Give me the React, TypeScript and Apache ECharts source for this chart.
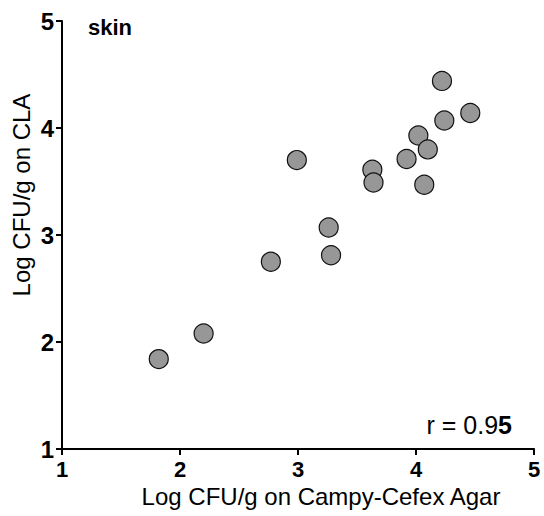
import React, { useEffect, useRef } from "react";
import * as echarts from "echarts";

const xValues = [1.82, 2.2, 2.77, 2.99, 3.26, 3.28, 3.63, 3.64, 3.92, 4.02, 4.07, 4.1, 4.22, 4.24, 4.46];
const yValues = [1.84, 2.08, 2.75, 3.7, 3.07, 2.81, 3.61, 3.49, 3.71, 3.93, 3.47, 3.8, 4.44, 4.07, 4.14];
const xTicks = [1, 2, 3, 4, 5];
const yTicks = [1, 2, 3, 4, 5];
const panelLabel = "skin";
const xTitle = "Log CFU/g on Campy-Cefex Agar";
const yTitle = "Log CFU/g on CLA";
const rLabelPlain = "r = 0.9";
const rLabelBold = "5";

const FONT = "Arial, 'Liberation Sans', Helvetica, sans-serif";

export default function App() {
  const ref = useRef<HTMLDivElement>(null);
  useEffect(() => {
    if (!ref.current) return;
    const chart = echarts.init(ref.current, null, { renderer: "svg" });
    const points = xValues.map((x, i) => [x, yValues[i]]);
    chart.setOption({
      animation: false,
      backgroundColor: "#ffffff",
      grid: { left: 62, right: 10, top: 21, bottom: 67 },
      xAxis: {
        type: "value",
        min: xTicks[0],
        max: xTicks[xTicks.length - 1],
        interval: 1,
        splitLine: { show: false },
        axisLine: { show: true, onZero: false, lineStyle: { color: "#000", width: 2 } },
        axisTick: { show: true, length: 6, lineStyle: { color: "#000", width: 2 } },
        axisLabel: { color: "#000", fontFamily: FONT, fontSize: 22, fontWeight: "bold", margin: 9 },
      },
      yAxis: {
        type: "value",
        min: yTicks[0],
        max: yTicks[yTicks.length - 1],
        interval: 1,
        splitLine: { show: false },
        axisLine: { show: true, onZero: false, lineStyle: { color: "#000", width: 2 } },
        axisTick: { show: true, length: 6, lineStyle: { color: "#000", width: 2 } },
        axisLabel: { color: "#000", fontFamily: FONT, fontSize: 24, fontWeight: "bold", margin: 8 },
      },
      series: [
        {
          type: "scatter",
          data: points,
          symbol: "circle",
          symbolSize: 19,
          itemStyle: { color: "#979797", borderColor: "#111", borderWidth: 1.2, opacity: 1 },
        },
      ],
      graphic: [
        {
          type: "text",
          left: 88,
          top: 16,
          style: { text: panelLabel, fill: "#000", font: `bold 22px ${FONT}` },
        },
        {
          type: "text",
          x: 321,
          y: 496,
          style: {
            text: xTitle,
            fill: "#000",
            font: `24px ${FONT}`,
            textAlign: "center",
            textVerticalAlign: "middle",
          },
        },
        {
          type: "text",
          x: 21,
          y: 195,
          rotation: Math.PI / 2,
          style: {
            text: yTitle,
            fill: "#000",
            font: `24px ${FONT}`,
            textAlign: "center",
            textVerticalAlign: "middle",
          },
        },
        {
          type: "text",
          x: 512,
          y: 425,
          style: {
            text: `{a|${rLabelPlain}}{b|${rLabelBold}}`,
            textAlign: "right",
            textVerticalAlign: "middle",
            rich: {
              a: { fill: "#000", fontFamily: FONT, fontSize: 25 },
              b: { fill: "#000", fontFamily: FONT, fontSize: 25, fontWeight: "bold" },
            },
          },
        },
      ],
    });
    return () => chart.dispose();
  }, []);
  return (
    <div
      ref={ref}
      style={{ position: "fixed", left: 0, top: 0, width: 544, height: 516, background: "#fff" }}
    />
  );
}
